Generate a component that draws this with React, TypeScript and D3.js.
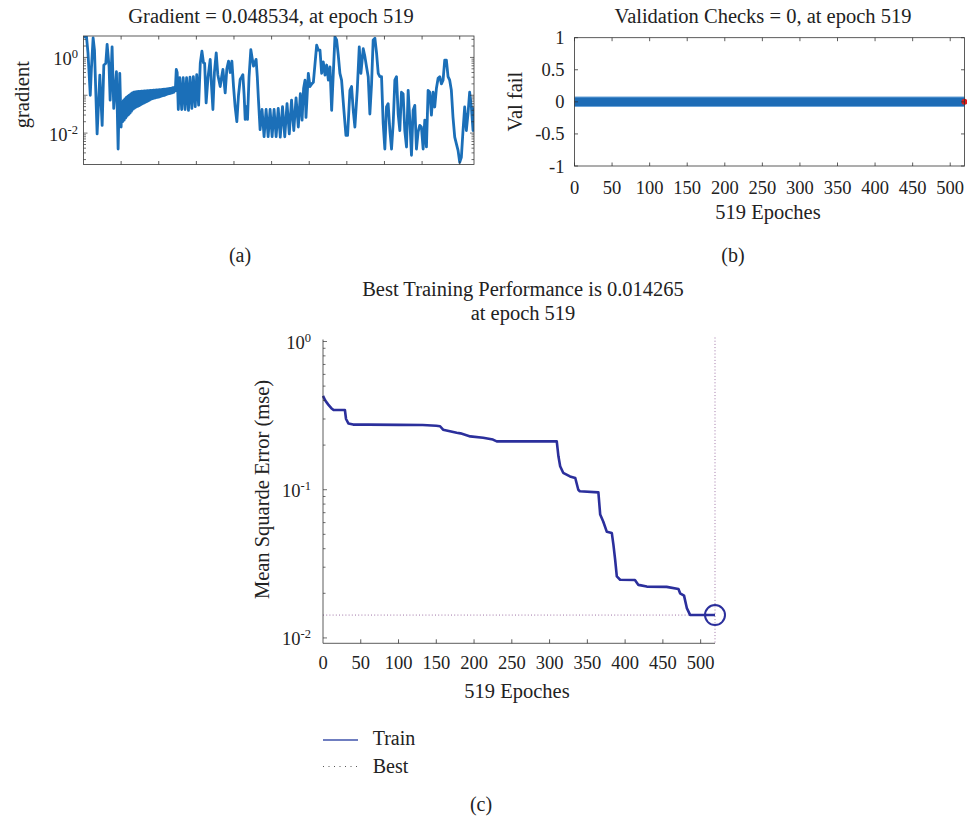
import React from 'react';
import * as d3 from 'd3';

const FONT = '"Liberation Serif", "Times New Roman", serif';
const TXT = '#222';
const AX = '#333';

// ---------- Panel (a): gradient per epoch ----------
const gradientPoints: [number, number][] = [
  [0, 3.5], [4, 3.5], [6, 1.3], [9, 0.1], [10.5, 0.5], [12.8, 3.3], [14.6, 1.55], [18.1, 0.0095],
  [21.7, 0.34], [24.8, 0.016], [27, 0.63], [29.6, 0.69], [31.4, 2.2], [34, 0.56], [35.4, 0.074],
  [38, 1.9], [40.2, 0.045], [43.8, 0.42], [46, 0.0038], [48.2, 0.38], [50, 0.0145],
  [51, 0.065], [52, 0.02], [53, 0.072], [54, 0.022], [55, 0.08], [56, 0.025], [57, 0.088], [58, 0.028],
  [59, 0.095], [60, 0.031], [61, 0.1], [62, 0.034], [63, 0.108], [64, 0.038], [65, 0.115], [66, 0.043],
  [67, 0.12], [68, 0.046], [69, 0.122], [70, 0.049], [71, 0.125], [72, 0.051], [73, 0.126], [74, 0.053],
  [75, 0.127], [76, 0.056], [77, 0.128], [78, 0.059], [79, 0.129], [80, 0.062], [81, 0.13], [82, 0.065],
  [83, 0.131], [84, 0.068], [85, 0.132], [86, 0.071], [87, 0.133], [88, 0.075], [89, 0.134], [90, 0.079],
  [91, 0.135], [92, 0.082], [93, 0.136], [94, 0.084], [95, 0.137], [96, 0.086], [97, 0.138], [98, 0.088],
  [99, 0.139], [100, 0.09], [101, 0.14], [102, 0.092], [103, 0.141], [104, 0.095], [105, 0.142], [106, 0.098],
  [107, 0.144], [108, 0.1], [109, 0.146], [110, 0.104], [111, 0.148], [112, 0.107], [113, 0.15], [114, 0.11],
  [115, 0.152], [116, 0.113], [117, 0.155], [118, 0.116], [119, 0.158], [120, 0.12], [121, 0.16], [122, 0.13],
  [123.3, 0.48], [124.5, 0.4], [126, 0.042], [128, 0.29], [130.5, 0.042], [132.5, 0.29], [135, 0.042],
  [137, 0.29], [139.5, 0.04], [141.5, 0.3], [144, 0.045], [146, 0.31], [148.5, 0.05], [150.5, 0.35],
  [153, 0.055], [155.2, 0.7], [157.4, 1.47], [159.5, 0.72], [161, 0.7], [163, 0.063], [165.5, 0.3],
  [168.4, 0.89], [170, 0.2], [172, 0.042], [174, 0.4], [176.4, 1.32], [178.5, 0.35], [181.7, 0.17],
  [183.5, 0.3], [185.3, 0.48], [188.3, 0.115], [190.5, 0.5], [192.8, 0.8], [195, 0.4], [197.2, 0.8],
  [199.4, 0.17], [201.5, 0.05], [203.8, 0.02], [206, 0.1], [208.2, 0.26], [210, 0.3], [211.8, 0.35],
  [213.5, 0.1], [214.9, 0.023], [216.5, 0.05], [218, 0.023], [220, 0.3], [222.4, 1.6], [224, 1.0],
  [225.9, 0.59], [227.5, 0.7], [229.4, 0.89], [231, 0.3], [232.5, 0.077], [234.7, 0.0123], [237.3, 0.042],
  [240, 0.0081], [242.7, 0.042], [245.4, 0.0081], [248, 0.042], [250.7, 0.0081], [253.3, 0.042],
  [256, 0.0081], [258.8, 0.045], [261.5, 0.0078], [264.5, 0.05], [267.5, 0.008], [270.5, 0.06],
  [273.5, 0.0095], [276.5, 0.074], [279.5, 0.0117], [282.5, 0.085], [285.5, 0.0145], [288.2, 0.11],
  [290.5, 0.022], [292.5, 0.15], [294.4, 0.25], [295.7, 0.026], [298.8, 0.38], [301, 0.17], [303.3, 0.2],
  [305.5, 0.22], [309.9, 2.1], [312.1, 1.55], [314.3, 1.55], [316.5, 0.38], [318.7, 0.76], [321, 0.34],
  [323.2, 0.63], [325.4, 0.25], [327.6, 0.56], [329.8, 0.04], [332, 0.38], [334.2, 3.5], [336.4, 2.9],
  [338.6, 1.15], [340.8, 0.38], [343, 0.25], [346.1, 0.04], [348.8, 0.0087], [351, 0.0087], [354.1, 0.135],
  [356.3, 0.17], [358.5, 0.04], [360.7, 0.0145], [363.8, 0.135], [366.5, 1.9], [368.7, 0.38], [371.8, 1.7],
  [374, 1.05], [376.2, 0.56], [378.4, 0.31], [380.6, 0.032], [382.8, 0.19], [385, 2.9], [387.3, 3.2],
  [389.5, 1.3], [391.7, 0.38], [393.9, 0.31], [396.1, 0.31], [398.3, 0.018], [400.5, 0.0038], [402.7, 0.049],
  [404.9, 0.06], [407.2, 0.0117], [409.4, 0.0038], [411.6, 0.018], [413.8, 0.25], [416, 0.31], [418.2, 0.032],
  [420.4, 0.0117], [422.6, 0.12], [424.8, 0.11], [427, 0.0117], [429.3, 0.0043], [431.5, 0.135], [433.7, 0.022],
  [435.9, 0.0026], [438.1, 0.04], [440.3, 0.054], [442.5, 0.0038], [444.7, 0.0107], [446.9, 0.016],
  [449.1, 0.0145], [451.4, 0.0038], [453.6, 0.022], [455.8, 0.0043], [458, 0.135], [460.2, 0.12], [462.4, 0.03],
  [464.6, 0.12], [466.8, 0.049], [469, 0.15], [471.3, 0.28], [473.5, 0.31], [475.7, 0.2], [477.9, 0.25],
  [480.1, 0.85], [482.3, 0.85], [484.5, 0.31], [486.7, 0.25], [488.9, 0.135], [491.1, 0.026], [493.4, 0.0078],
  [495.6, 0.0052], [497.8, 0.0035], [500, 0.0017], [502.2, 0.0023], [504.4, 0.0117], [506.6, 0.049],
  [508.8, 0.0117], [511, 0.032], [513.2, 0.12], [515.5, 0.049], [517.7, 0.0117], [519, 0.0485],
];
const gradientTitle = 'Gradient = 0.048534, at epoch 519';

// ---------- Panel (b): validation checks ----------
const valEpochs = [0, 519];
const valValues = [0, 0];
const valBestEpoch = 519;
const valBestValue = 0;
const valTitle = 'Validation Checks = 0, at epoch 519';
const valYTicks = [1, 0.5, 0, -0.5, -1];
const valYTickLabels = ['1', '0.5', '0', '-0.5', '-1'];

// ---------- Panel (c): training performance ----------
const trainEpochs = [0, 3, 7, 11, 14, 29, 30.5, 33.6, 40, 60, 100, 132, 150, 155, 159, 177, 182, 195, 212, 225, 230,
  309.5, 311.7, 314, 318, 327, 334, 338, 340, 364.6, 367, 371, 375.8, 382.4, 384.5, 386.8, 389, 393.4, 413,
  417.6, 428.7, 455, 470.6, 472.8, 478, 481.7, 486, 519];
const trainValues = [0.43, 0.4, 0.375, 0.355, 0.345, 0.345, 0.3, 0.28, 0.275, 0.275, 0.274, 0.273, 0.27, 0.268,
  0.254, 0.242, 0.24, 0.229, 0.224, 0.218, 0.212, 0.212, 0.168, 0.144, 0.13, 0.123, 0.12, 0.1, 0.0977, 0.096,
  0.068, 0.061, 0.052, 0.051, 0.0426, 0.0337, 0.026, 0.0247, 0.0246, 0.0228, 0.0222, 0.0221, 0.0214, 0.02,
  0.0193, 0.0159, 0.0143, 0.014265];
const bestEpoch = 519;
const bestPerf = 0.014265;
const perfTitle1 = 'Best Training Performance is 0.014265';
const perfTitle2 = 'at epoch 519';

const epochTicks = [0, 50, 100, 150, 200, 250, 300, 350, 400, 450, 500];
const xLabel = '519 Epoches';
const legendItems = ['Train', 'Best'];

function logTicks(lo: number, hi: number) {
  const out: { v: number; major: boolean; exp: number }[] = [];
  for (let e = Math.floor(Math.log10(lo)); e <= Math.ceil(Math.log10(hi)); e++) {
    for (let m = 1; m <= 9; m++) {
      const v = m * Math.pow(10, e);
      if (v >= lo * 0.999 && v <= hi * 1.001) out.push({ v, major: m === 1, exp: e });
    }
  }
  return out;
}

function Pow10({ x, y, exp, size = 18.5 }: { x: number; y: number; exp: number; size?: number }) {
  return (
    <text x={x} y={y} textAnchor="end" fontSize={size} fill={TXT}>
      10<tspan dy={-7} fontSize={12.5}>{String(exp)}</tspan>
    </text>
  );
}

export default function App() {
  // Panel (a)
  const aL = 83.5, aR = 474, aT = 36, aB = 164.5;
  const xA = d3.scaleLinear().domain([0, 519]).range([aL, aR]);
  const yA = d3.scaleLog().domain([0.00148, 3.68]).range([aB, aT]);
  const lineA = d3.line<[number, number]>().x(d => xA(d[0])).y(d => yA(d[1]));
  const aLog = logTicks(0.00148, 3.68);

  // Panel (b)
  const bL = 574.5, bR = 964.5, bT = 37.7, bB = 166;
  const xB = d3.scaleLinear().domain([0, 519]).range([bL, bR]);
  const yB = d3.scaleLinear().domain([-1, 1]).range([bB, bT]);
  const lineB = d3.line<number>().x((_, i) => xB(valEpochs[i])).y(d => yB(d));

  // Panel (c)
  const cL = 323, cR = 715, cT = 341.5, cB = 643.3;
  const xC = d3.scaleLinear().domain([0, 519]).range([cL, cR]);
  const yC = d3.scaleLog().domain([0.0092, 1]).range([cB, cT]);
  const lineC = d3.line<number>().x((_, i) => xC(trainEpochs[i])).y(d => yC(d));
  const cLog = logTicks(0.0092, 1);

  const navy = '#2b2f9c';

  return (
    <svg width={967} height={820} style={{ position: 'absolute', left: 0, top: 0, background: '#fff' }}
      fontFamily={FONT}>
      <defs>
        <clipPath id="clipA"><rect x={aL} y={aT} width={aR - aL} height={aB - aT} /></clipPath>
      </defs>

      {/* ===== Panel (a) ===== */}
      <text x={271} y={22.5} textAnchor="middle" fontSize={20.5} fill={TXT}>{gradientTitle}</text>
      <text transform={`translate(29,94.7) rotate(-90)`} textAnchor="middle" fontSize={20.5} fill={TXT}>gradient</text>
      <path d={lineA(gradientPoints) || ''} fill="none" stroke="#1b6fb8" strokeWidth={2.8}
        strokeLinejoin="round" clipPath="url(#clipA)" />
      <rect x={aL} y={aT} width={aR - aL} height={aB - aT} fill="none" stroke={AX} strokeWidth={0.8} />
      {epochTicks.filter(t => t > 0).map(t => (
        <g key={'ax' + t} stroke={AX} strokeWidth={0.8}>
          <line x1={xA(t)} x2={xA(t)} y1={aB} y2={aB - 3.5} />
          <line x1={xA(t)} x2={xA(t)} y1={aT} y2={aT + 3.5} />
        </g>
      ))}
      {aLog.map((t, i) => (
        <g key={'ay' + i} stroke={AX} strokeWidth={0.7}>
          <line x1={aL} x2={aL + (t.major ? 4 : 2.5)} y1={yA(t.v)} y2={yA(t.v)} />
          <line x1={aR} x2={aR - (t.major ? 4 : 2.5)} y1={yA(t.v)} y2={yA(t.v)} />
        </g>
      ))}
      {aLog.filter(t => t.major && t.exp % 2 === 0).map(t => (
        <Pow10 key={'al' + t.exp} x={78} y={yA(t.v) + 8} exp={t.exp} />
      ))}
      <text x={240} y={262} textAnchor="middle" fontSize={20} fill={TXT}>(a)</text>

      {/* ===== Panel (b) ===== */}
      <text x={763} y={22.7} textAnchor="middle" fontSize={20.5} fill={TXT}>{valTitle}</text>
      <text transform={`translate(521.7,101.7) rotate(-90)`} textAnchor="middle" fontSize={20.5} fill={TXT}>Val fail</text>
      <path d={lineB(valValues) || ''} fill="none" stroke="#6aa3d8" strokeWidth={10.5} />
      <path d={lineB(valValues) || ''} fill="none" stroke="#1d6cb6" strokeWidth={8.5} />
      <circle cx={xB(valBestEpoch)} cy={yB(valBestValue)} r={3} fill="#e01b1b" />
      <rect x={bL} y={bT} width={bR - bL} height={bB - bT} fill="none" stroke={AX} strokeWidth={0.8} />
      {epochTicks.map(t => (
        <g key={'bx' + t}>
          <line x1={xB(t)} x2={xB(t)} y1={bB} y2={bB - 3.5} stroke={AX} strokeWidth={0.8} />
          <line x1={xB(t)} x2={xB(t)} y1={bT} y2={bT + 3.5} stroke={AX} strokeWidth={0.8} />
          <text x={xB(t)} y={194} textAnchor="middle" fontSize={18.5} fill={TXT}>{t}</text>
        </g>
      ))}
      {valYTicks.map((t, i) => (
        <g key={'by' + t}>
          <line x1={bL} x2={bL + 3.5} y1={yB(t)} y2={yB(t)} stroke={AX} strokeWidth={0.8} />
          <line x1={bR} x2={bR - 3.5} y1={yB(t)} y2={yB(t)} stroke={AX} strokeWidth={0.8} />
          <text x={564.5} y={yB(t) + 6.5} textAnchor="end" fontSize={18.5} fill={TXT}>{valYTickLabels[i]}</text>
        </g>
      ))}
      <text x={768} y={219} textAnchor="middle" fontSize={20.5} fill={TXT}>{xLabel}</text>
      <text x={733} y={262} textAnchor="middle" fontSize={20} fill={TXT}>(b)</text>

      {/* ===== Panel (c) ===== */}
      <text x={523} y={296} textAnchor="middle" fontSize={20.5} fill={TXT}>{perfTitle1}</text>
      <text x={523} y={319.5} textAnchor="middle" fontSize={20.5} fill={TXT}>{perfTitle2}</text>
      <text transform={`translate(269,489.5) rotate(-90)`} textAnchor="middle" fontSize={20.5} fill={TXT}>Mean Squarde Error (mse)</text>
      <line x1={cL} x2={xC(bestEpoch)} y1={yC(bestPerf)} y2={yC(bestPerf)} stroke="#9f74a6"
        strokeWidth={1} strokeDasharray="1,2.2" />
      <line x1={xC(bestEpoch)} x2={xC(bestEpoch)} y1={cT - 4} y2={cB} stroke="#9f74a6"
        strokeWidth={1} strokeDasharray="1,2.2" />
      <path d={lineC(trainValues) || ''} fill="none" stroke={navy} strokeWidth={2.6} strokeLinejoin="round" />
      <circle cx={xC(bestEpoch)} cy={yC(bestPerf)} r={10} fill="none" stroke={navy} strokeWidth={2} />
      <line x1={cL} x2={cL} y1={cT - 2} y2={cB} stroke={AX} strokeWidth={0.8} />
      <line x1={cL} x2={cR} y1={cB} y2={cB} stroke={AX} strokeWidth={0.8} />
      {epochTicks.map(t => (
        <g key={'cx' + t}>
          {t > 0 && <line x1={xC(t)} x2={xC(t)} y1={cB} y2={cB - 4} stroke={AX} strokeWidth={0.8} />}
          <text x={xC(t)} y={669} textAnchor="middle" fontSize={18.5} fill={TXT}>{t}</text>
        </g>
      ))}
      {cLog.map((t, i) => (
        <line key={'cy' + i} x1={cL} x2={cL + (t.major ? 4 : 2.5)} y1={yC(t.v)} y2={yC(t.v)}
          stroke={AX} strokeWidth={0.7} />
      ))}
      {cLog.filter(t => t.major).map(t => (
        <Pow10 key={'cl' + t.exp} x={311} y={yC(t.v) + 7.5} exp={t.exp} />
      ))}
      <text x={517} y={698} textAnchor="middle" fontSize={20.5} fill={TXT}>{xLabel}</text>

      {/* legend */}
      <line x1={323} x2={358} y1={740} y2={740} stroke="#6f7ec0" strokeWidth={1.8} />
      <text x={372.7} y={745} fontSize={20} fill={TXT}>{legendItems[0]}</text>
      <line x1={323} x2={358} y1={766.5} y2={766.5} stroke="#555" strokeWidth={1} strokeDasharray="1,4.5" />
      <text x={372.7} y={772.7} fontSize={20} fill={TXT}>{legendItems[1]}</text>

      <text x={481} y={810.5} textAnchor="middle" fontSize={20} fill={TXT}>(c)</text>
    </svg>
  );
}
